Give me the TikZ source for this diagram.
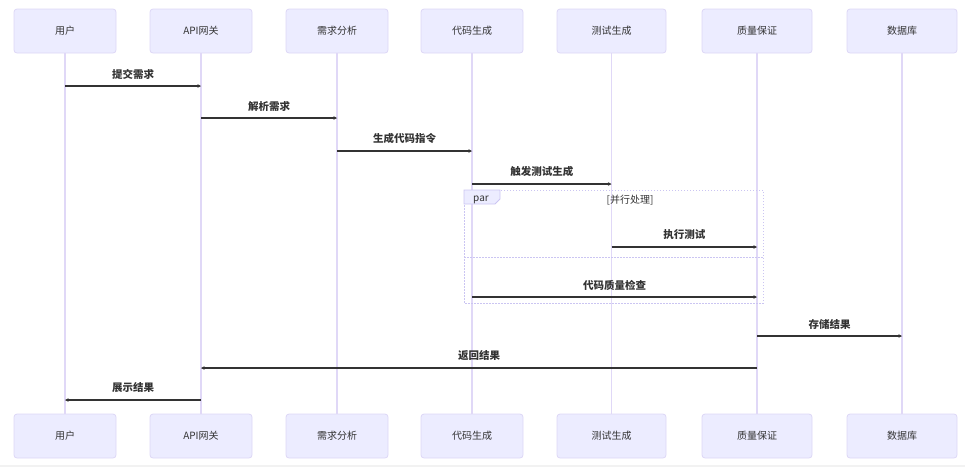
\documentclass[tikz,border=0pt]{standalone}
\usepackage{fontspec}
\setmainfont{Noto Sans CJK SC}
\usetikzlibrary{arrows.meta}
\definecolor{boxfill}{HTML}{ECECFF}
\definecolor{boxline}{HTML}{DDD7F6}
\definecolor{lifecol}{HTML}{E0D8F7}
\definecolor{msgcol}{HTML}{333333}
\definecolor{parline}{HTML}{CBC5F2}
\begin{document}
\begin{tikzpicture}[x=1pt,y=-1pt,
  actor/.style={draw=boxline, fill=boxfill, rounded corners=3pt, minimum height=44pt,
    inner sep=0pt, line width=0.8pt, text=msgcol, font=\fontsize{10}{12}\selectfont},
  lifeline/.style={draw=lifecol, line width=1.5pt},
  msgline/.style={draw=msgcol, line width=1.2pt, -{Stealth[length=3.5pt,width=3.5pt]}},
  msglabel/.style={text=msgcol, font=\fontsize{10.5}{12}\selectfont\bfseries},
  pardash/.style={draw=parline, line width=1pt, dash pattern=on 1.5pt off 1.5pt},
  partext/.style={text=msgcol, font=\fontsize{10}{12}\selectfont}]
\useasboundingbox (0,0) rectangle (965,467);
\fill[gray!10] (0,465) rectangle (965,467);
% top actors
\node[actor, minimum width=102pt] (u) at (65,31) {用户};
\node[actor, minimum width=102pt] (g) at (201,31) {API网关};
\node[actor, minimum width=102pt] (r) at (337,31) {需求分析};
\node[actor, minimum width=102pt] (c) at (472,31) {代码生成};
\node[actor, minimum width=109pt] (t) at (611.5,31) {测试生成};
\node[actor, minimum width=110pt] (q) at (757,31) {质量保证};
\node[actor, minimum width=110pt] (d) at (902,31) {数据库};
% bottom actors
\node[actor, minimum width=102pt] (u2) at (65,436) {用户};
\node[actor, minimum width=102pt] (g2) at (201,436) {API网关};
\node[actor, minimum width=102pt] (r2) at (337,436) {需求分析};
\node[actor, minimum width=102pt] (c2) at (472,436) {代码生成};
\node[actor, minimum width=109pt] (t2) at (611.5,436) {测试生成};
\node[actor, minimum width=110pt] (q2) at (757,436) {质量保证};
\node[actor, minimum width=110pt] (d2) at (902,436) {数据库};
% lifelines
\foreach \a in {u,g,r,c,t,q,d} {\draw[lifeline] (\a.south) -- (\a2.north);}
% par block
\draw[pardash] (464,190) rectangle (763,303);
\draw[pardash] (464,257) -- (763,257);
\draw[draw=parline, fill=boxfill, line width=0.8pt] (464,190) -- (500,190) -- (500,199) -- (495,204) -- (464,204) -- cycle;
\node[partext] (parlbl) at (481,199.5) {par};
\node[partext] (parcond) at (630,200.5) {[并行处理]};
% messages
\draw[msgline] (u.south |- 0,86) -- node[msglabel, above=3pt] {提交需求} (g.south |- 0,86);
\draw[msgline] (g.south |- 0,118) -- node[msglabel, above=3pt] {解析需求} (r.south |- 0,118);
\draw[msgline] (r.south |- 0,151) -- node[msglabel, above=3pt] {生成代码指令} (c.south |- 0,151);
\draw[msgline] (c.south |- 0,184) -- node[msglabel, above=3pt] {触发测试生成} (t.south |- 0,184);
\draw[msgline] (t.south |- 0,247) -- node[msglabel, above=3pt] {执行测试} (q.south |- 0,247);
\draw[msgline] (c.south |- 0,297) -- node[msglabel, above=3pt] {代码质量检查} (q.south |- 0,297);
\draw[msgline] (q.south |- 0,336) -- node[msglabel, above=3pt] {存储结果} (d.south |- 0,336);
\draw[msgline] (q.south |- 0,368) -- node[msglabel, above=3pt] {返回结果} (g.south |- 0,368);
\draw[msgline] (g.south |- 0,400) -- node[msglabel, above=3pt] {展示结果} (u.south |- 0,400);
\end{tikzpicture}
\end{document}
